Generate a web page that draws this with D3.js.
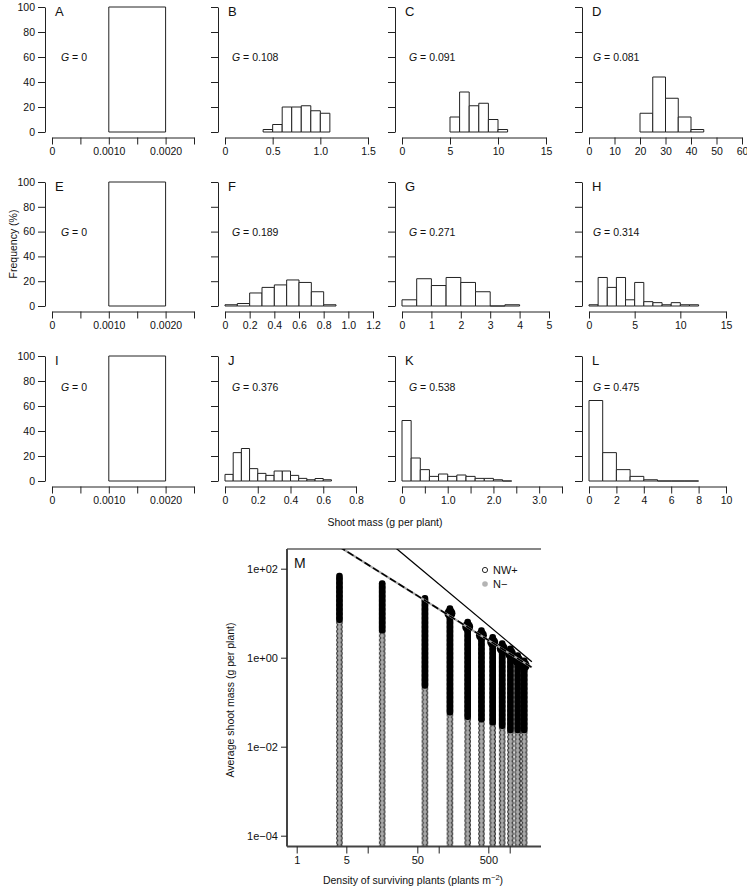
<!DOCTYPE html>
<html><head><meta charset="utf-8">
<script src="https://cdn.jsdelivr.net/npm/d3@7"></script>
<style>
body{margin:0;background:#fff}
svg{display:block}
text{font-family:"Liberation Sans",Arial,Helvetica,sans-serif;fill:#111}
</style>
</head><body>
<svg id="chart" width="747" height="887"></svg>
<script>
// ---------------- DATA ----------------
const panelLetters = ["A","B","C","D","E","F","G","H","I","J","K","L"];
const gValues = ["0","0.108","0.091","0.081","0","0.189","0.271","0.314","0","0.376","0.538","0.475"];
const binStarts = [0.001,0.4,5,20, 0.001,0,0,0, 0.001,0,0,0];
const binWidths = [0.001,0.1,1,5, 0.001,0.1,0.5,1, 0.001,0.05,0.2,1];
const freqA = [100];
const freqB = [2,6,20,20,21,17,15];
const freqC = [12,32,21,23,10,2];
const freqD = [15,44,27,12,2];
const freqE = [100];
const freqF = [1,2,10.5,15,17,21,19,11.5,1];
const freqG = [5,22,16.5,23,19,11.5,0,1];
const freqH = [1,23,15,23,5,19,3.5,2.7,1,2.7,1,1];
const freqI = [100];
const freqJ = [5.3,22.7,26,9.9,6.1,4.5,8,8,4.5,2.1,1,2,1];
const freqK = [48.4,18.4,9.1,3.7,5.6,3.7,4.8,3.7,2.1,2.1,1,0];
const freqL = [64.4,22.7,9.1,3.7,1,0,0,0];
const freqs = [freqA,freqB,freqC,freqD,freqE,freqF,freqG,freqH,freqI,freqJ,freqK,freqL];

const ticksZero = [0,0.0005,0.001,0.0015,0.002,0.0025];
const labelsZero = ["0","","0.0010","","0.0020",""];
const ticksB = [0,0.5,1,1.5], labelsB = ["0","0.5","1.0","1.5"];
const ticksC = [0,5,10,15], labelsC = ["0","5","10","15"];
const ticksD = [0,10,20,30,40,50,60], labelsD = ["0","10","20","30","40","50","60"];
const ticksF = [0,0.2,0.4,0.6,0.8,1.0,1.2], labelsF = ["0","0.2","0.4","0.6","0.8","1.0","1.2"];
const ticksG = [0,1,2,3,4,5], labelsG = ["0","1","2","3","4","5"];
const ticksH = [0,5,10,15], labelsH = ["0","5","10","15"];
const ticksJ = [0,0.2,0.4,0.6,0.8], labelsJ = ["0","0.2","0.4","0.6","0.8"];
const ticksK = [0,0.5,1,1.5,2,2.5,3,3.5], labelsK = ["0","","1.0","","2.0","","3.0",""];
const ticksL = [0,2,4,6,8,10], labelsL = ["0","2","4","6","8","10"];
const xTicks = [ticksZero,ticksB,ticksC,ticksD,ticksZero,ticksF,ticksG,ticksH,ticksZero,ticksJ,ticksK,ticksL];
const xLabels = [labelsZero,labelsB,labelsC,labelsD,labelsZero,labelsF,labelsG,labelsH,labelsZero,labelsJ,labelsK,labelsL];
const yTicks = [0,20,40,60,80,100];

// Panel M
const densities = [4,16,64,144,256,400,576,784,1024,1296,1600];
const colTopMass = [69,47,22,13,6.4,4.15,2.9,2.1,1.6,1.13,0.87];
const colDenseLowMass = [6,3.5,0.2,0.05,0.04,0.035,0.03,0.025,0.02,0.02,0.02];
const colBottomMass = [1e-5,1e-5,1e-5,1e-5,1e-5,1e-5,1e-5,1e-5,1e-5,1e-5,1e-5];
const mTicksY = [1e2,1,1e-2,1e-4], mLabelsY = ["1e+02","1e+00","1e\u221202","1e\u221204"];
const mTicksX = [1,5,10,50,100,500,1000], mLabelsX = ["1","5","","50","","500",""];
const lineNW = {k: 1240, b: -1, dMin: 1, dMax: 2050};
const lineSelf = {k: 21135, b: -4/3, dMin: 1, dMax: 2050};
const legendLabels = ["NW+","N\u2212"];

// ---------------- LAYOUT ----------------
const svg = d3.select("#chart");
const colX0 = [52,225,402,589];
const panelX1 = [194,368,546,742,194,373,549,726,194,356,562,726];
const rowY0 = [132,306,481], rowY100 = [7,182,356];
const gTextX = [61,232,409,593];
const FONT = "Liberation Sans, Arial, Helvetica, sans-serif";
const FS = 10.5;

freqs.forEach((fr, i) => {
  const r = Math.floor(i/4), c = i%4;
  const ticks = xTicks[i];
  const x = d3.scaleLinear().domain([0, ticks[ticks.length-1]]).range([colX0[c], panelX1[i]]);
  const y = d3.scaleLinear().domain([0,100]).range([rowY0[r], rowY100[r]]);
  const g = svg.append("g");
  fr.forEach((f, j) => {
    const a = x(binStarts[i] + j*binWidths[i]), b = x(binStarts[i] + (j+1)*binWidths[i]);
    g.append("path")
      .attr("d", `M${a},${y(0)}V${y(f)}H${b}V${y(0)}Z`)
      .attr("fill","#fff").attr("stroke","#222").attr("stroke-width",1);
  });
  const xa = g.append("g").attr("transform",`translate(0,${rowY0[r]+5.5})`)
    .call(d3.axisBottom(x).tickValues(ticks).tickFormat((d,k)=>xLabels[i][k]).tickSize(7).tickSizeOuter(0).tickPadding(3.5));
  const ya = g.append("g").attr("transform",`translate(${colX0[c]-7},0)`)
    .call(d3.axisLeft(y).tickValues(yTicks).tickFormat(c===0 ? d3.format("d") : "").tickSize(7).tickSizeOuter(0).tickPadding(3));
  [xa,ya].forEach(ax => {
    ax.attr("font-size",FS).attr("font-family",FONT);
    ax.selectAll("path,line").attr("stroke","#222");
    ax.selectAll("text").attr("fill","#111");
  });
  g.append("text").attr("x", colX0[c]+3).attr("y", rowY100[r]+8.5).attr("font-size",13).text(panelLetters[i]);
  const gy = r===2 ? y(75) : y(60);
  const t = g.append("text").attr("x", gTextX[c]).attr("y", gy+4).attr("font-size",FS);
  t.append("tspan").attr("font-style","italic").text("G");
  t.append("tspan").text(" = " + gValues[i]);
});

svg.append("text").attr("transform","translate(17,244) rotate(-90)").attr("text-anchor","middle")
  .attr("font-size",FS).text("Frequency (%)");
svg.append("text").attr("x",385).attr("y",526).attr("text-anchor","middle")
  .attr("font-size",FS).text("Shoot mass (g per plant)");

// ---------------- PANEL M ----------------
const mL = 287, mT = 549, mB = 846.5, mR = 541;
const xm = d3.scaleLog().domain([1,1000]).range([296.7,509.7]);
const ym = d3.scaleLog().domain([1e2,1e-4]).range([568.7,835.7]);
const defs = svg.append("defs");
defs.append("clipPath").attr("id","mclip").append("rect")
  .attr("x",mL).attr("y",mT).attr("width",mR-mL).attr("height",mB-mT);
const gm = svg.append("g").attr("clip-path","url(#mclip)");
const colW = 6.6;
densities.forEach((d,i) => {
  const cx = xm(d);
  const pid = "pt"+i;
  const p = defs.append("pattern").attr("id",pid).attr("patternUnits","userSpaceOnUse")
    .attr("x", cx-colW/2).attr("y", 0).attr("width", colW).attr("height", 4.4);
  p.append("rect").attr("width",colW).attr("height",4.4).attr("fill","#fff");
  p.append("circle").attr("cx",colW/2).attr("cy",2.2).attr("r",2.7)
    .attr("fill","#a8a8a8").attr("stroke","#111").attr("stroke-width",0.9);
  gm.append("rect").attr("x",cx-colW/2).attr("width",colW)
    .attr("y", ym(colTopMass[i])).attr("height", ym(colBottomMass[i]) - ym(colTopMass[i]))
    .attr("fill",`url(#${pid})`);
  gm.append("rect").attr("x",cx-colW/2).attr("width",colW).attr("rx",3)
    .attr("y", ym(colTopMass[i])-3).attr("height", ym(colDenseLowMass[i]) - ym(colTopMass[i]) + 3)
    .attr("fill","#000");
  if (d >= 144) {
    gm.append("ellipse").attr("cx", cx).attr("cy", ym(colTopMass[i])+5)
      .attr("rx", 5.5).attr("ry", 6).attr("fill","#000");
  }
});
function lineData(L){ return [L.dMin, L.dMax].map(d => [xm(d), ym(L.k*Math.pow(d,L.b))]); }
gm.append("path").attr("d", d3.line()(lineData(lineNW))).attr("stroke","#aaa").attr("stroke-width",2.2).attr("fill","none");
gm.append("path").attr("d", d3.line()(lineData(lineNW))).attr("stroke","#000").attr("stroke-width",1.6)
  .attr("stroke-dasharray","7,3").attr("fill","none");
gm.append("path").attr("d", d3.line()(lineData(lineSelf))).attr("stroke","#000").attr("stroke-width",1.3).attr("fill","none");

svg.append("line").attr("x1",mL).attr("x2",mR).attr("y1",mT).attr("y2",mT).attr("stroke","#111").attr("stroke-width",1.2);
svg.append("line").attr("x1",mL).attr("x2",mL).attr("y1",mT).attr("y2",mB).attr("stroke","#444").attr("stroke-width",2);
svg.append("line").attr("x1",mL).attr("x2",mR).attr("y1",mB).attr("y2",mB).attr("stroke","#444").attr("stroke-width",2);

const yax = svg.append("g").attr("transform",`translate(${mL},0)`)
  .call(d3.axisLeft(ym).tickValues(mTicksY).tickFormat((d,k)=>mLabelsY[k]).tickSize(6).tickSizeOuter(0).tickPadding(3));
yax.select(".domain").remove();
const xax = svg.append("g").attr("transform",`translate(0,${mB})`)
  .call(d3.axisBottom(xm).tickValues(mTicksX).tickFormat((d,k)=>mLabelsX[k]).tickSize(7).tickSizeOuter(0).tickPadding(3));
xax.select(".domain").remove();
[xax,yax].forEach(ax => {
  ax.attr("font-size",11).attr("font-family",FONT);
  ax.selectAll("line").attr("stroke","#222");
  ax.selectAll("text").attr("fill","#111");
});
svg.append("text").attr("x",mL+7).attr("y",568).attr("font-size",14).text("M");
svg.append("circle").attr("cx",485).attr("cy",570).attr("r",2.6).attr("fill","#fff").attr("stroke","#111").attr("stroke-width",0.9);
svg.append("circle").attr("cx",485).attr("cy",584).attr("r",2.8).attr("fill","#b4b4b4");
svg.append("text").attr("x",493).attr("y",574).attr("font-size",11).text(legendLabels[0]);
svg.append("text").attr("x",493).attr("y",588).attr("font-size",11).text(legendLabels[1]);
svg.append("text").attr("transform","translate(234,700) rotate(-90)").attr("text-anchor","middle")
  .attr("font-size",FS).text("Average shoot mass (g per plant)");
const xt = svg.append("text").attr("x",413).attr("y",884).attr("text-anchor","middle").attr("font-size",FS);
xt.append("tspan").text("Density of surviving plants (plants m");
xt.append("tspan").attr("font-size",7.5).attr("dy",-4).text("\u22122");
xt.append("tspan").attr("dy",4).text(")");
</script>
</body></html>
